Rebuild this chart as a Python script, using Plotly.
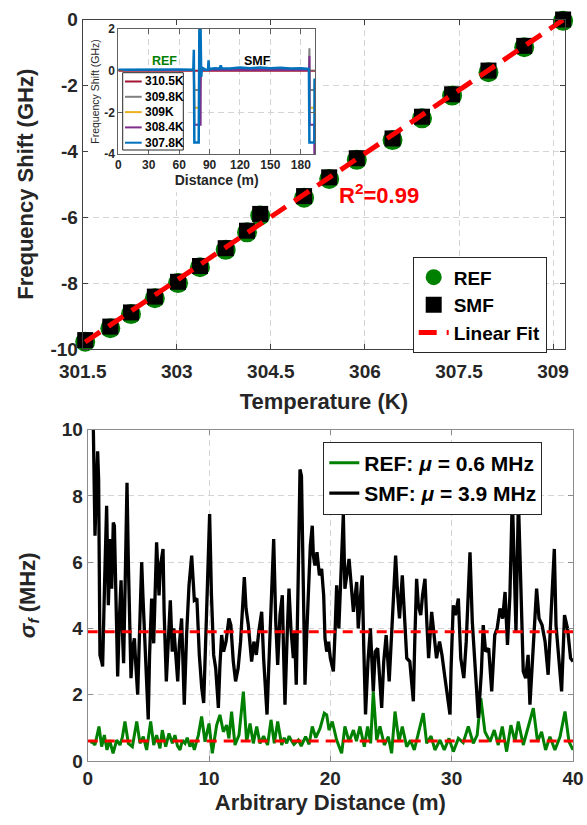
import numpy as np
import plotly.graph_objects as go

W, H = 587, 825
FONT = "Liberation Sans, Arial, Helvetica, sans-serif"
INK = "#262626"
GREEN = "#008000"
RED = "#ff0000"
GRID = "#d4d4d4"

# ---------------- Temperature sweep (top panel) ----------------
temp_k = [301.54, 301.94, 302.27, 302.65, 303.02, 303.37, 303.78, 304.12, 304.33,
          305.03, 305.43, 305.87, 306.44, 306.91, 307.39, 307.97, 308.54, 309.16]
shift_smf_ghz = [-9.73, -9.32, -8.89, -8.41, -7.96, -7.48, -6.94, -6.41, -5.90,
                 -5.36, -4.79, -4.21, -3.61, -2.95, -2.27, -1.55, -0.80, 0.00]
shift_ref_ghz = [-9.78, -9.37, -8.94, -8.46, -8.00, -7.52, -6.99, -6.46, -5.95,
                 -5.41, -4.84, -4.26, -3.66, -3.00, -2.31, -1.60, -0.84, -0.04]
r_squared = 0.99
temp_ticks = [301.5, 303, 304.5, 306, 307.5, 309]
temp_ticktext = ["301.5", "303", "304.5", "306", "307.5", "309"]
shift_ticks = [-10, -8, -6, -4, -2, 0]
shift_ticktext = ["-10", "-8", "-6", "-4", "-2", "0"]

# ---------------- Distributed profiles (inset) ----------------
inset_labels = ["310.5K", "309.8K", "309K", "308.4K", "307.8K"]
inset_colors = ["#A2142F", "#808080", "#EDB120", "#7E2F8E", "#0072BD"]
dist_3105 = [0, 60, 120, 194]
shift_3105 = [0.0, 0.0, 0.0, 0.0]
dist_3098 = [0, 74.5, 75, 80.5, 81, 188, 188.5, 188.8, 193.4, 194]
shift_3098 = [0.03, 0.03, -0.93, -0.93, 0.03, 0.03, 1.07, -0.93, -0.93, -0.4]
dist_3090 = [0, 74.5, 75, 80.5, 81, 188.2, 188.6, 193.4, 194]
shift_3090 = [0.03, 0.03, -1.78, -1.78, 0.03, 0.03, -1.78, -1.78, -0.6]
dist_3084 = [0, 74.5, 75, 81.2, 81.4, 188.2, 188.5, 188.8, 193.2, 193.4]
shift_3084 = [0.03, 0.03, -2.6, -2.6, 0.03, 0.03, 0.7, -2.6, -2.6, -4.5]
dist_3078 = [0, 20, 40, 60, 74, 74.5, 75, 79.3, 80, 81, 81.8, 82.5, 86, 88.5, 89,
             89.5, 95, 100, 101, 102, 110, 120, 130, 140, 150, 160, 170, 180, 188,
             188.5, 193.4, 193.6]
shift_3078 = [0.05, 0.06, 0.05, 0.06, 0.05, 1.0, -3.45, -3.45, 2.5, 2.5, -0.3, 0.15,
              0.05, 0.05, 0.5, 0.08, 0.12, 0.1, 0.25, 0.12, 0.1, 0.15, 0.12, 0.15,
              0.12, 0.14, 0.1, 0.12, 0.08, -3.45, -3.45, -0.37]
inset_dist = [dist_3105, dist_3098, dist_3090, dist_3084, dist_3078]
inset_shift = [shift_3105, shift_3098, shift_3090, shift_3084, shift_3078]
inset_xticks = [0, 30, 60, 90, 120, 150, 180]
inset_yticks = [-4, -2, 0, 2]
inset_yticktext = ["-4", "-2", "0", "2"]

# ---------------- Frequency uncertainty (bottom panel) ----------------
smf_dist_m = [0.45, 0.6, 0.7, 0.82, 0.9, 1.01, 1.15, 1.23, 1.4, 1.56, 1.7, 1.8, 1.87, 1.98,
              2.05, 2.11, 2.2, 2.3, 2.47, 2.6, 2.75, 2.85, 2.96, 3.1, 3.24, 3.35, 3.45, 3.57,
              3.7, 3.85, 3.95, 4.12, 4.25, 4.45, 4.55, 4.72, 4.85, 4.99, 5.1, 5.27, 5.44,
              5.55, 5.68, 5.8, 5.88, 6.0, 6.21, 6.3, 6.48, 6.6, 6.81, 6.97, 7.1, 7.2, 7.42,
              7.55, 7.74, 7.85, 7.96, 8.15, 8.35, 8.57, 8.7, 8.79, 9.0, 9.2, 9.4, 9.56, 9.8,
              10.05, 10.2, 10.38, 10.55, 10.77, 10.9, 11.04, 11.2, 11.4, 11.64, 11.8, 12.0,
              12.19, 12.4, 12.6, 12.91, 13.05, 13.24, 13.4, 13.51, 13.7, 13.9, 14.1, 14.34,
              14.5, 14.78, 14.9, 15.05, 15.2, 15.33, 15.5, 15.66, 15.85, 16.04, 16.15, 16.26,
              16.45, 16.59, 16.75, 16.95, 17.05, 17.19, 17.35, 17.5, 17.62, 17.75, 17.91,
              18.05, 18.18, 18.35, 18.51, 18.6, 18.73, 18.9, 19.1, 19.28, 19.45, 19.56, 19.7,
              19.85, 20.0, 20.25, 20.4, 20.52, 20.7, 20.85, 21.07, 21.2, 21.35, 21.54, 21.7,
              21.9, 22.17, 22.3, 22.45, 22.63, 22.75, 22.9, 23.1, 23.3, 23.54, 23.7, 23.9,
              24.05, 24.23, 24.4, 24.6, 24.85, 25.05, 25.38, 25.55, 25.7, 25.93, 26.1, 26.3,
              26.55, 26.84, 26.95, 27.11, 27.25, 27.45, 27.6, 27.8, 27.95, 28.1, 28.35, 28.55,
              28.75, 29.0, 29.2, 29.45, 29.86, 29.95, 30.13, 30.3, 30.55, 30.75, 31.0, 31.2,
              31.51, 31.7, 31.9, 32.2, 32.45, 32.6, 32.8, 33.05, 33.3, 33.55, 33.75, 33.98,
              34.2, 34.4, 34.6, 34.8, 35.0, 35.15, 35.3, 35.5, 35.7, 35.9, 36.1, 36.3, 36.45,
              36.65, 36.85, 37.0, 37.2, 37.45, 37.7, 37.95, 38.2, 38.46, 38.6, 38.8, 39.06,
              39.3, 39.55, 39.8, 40.0]
smf_sigma_mhz = [10.4, 6.8, 8.0, 9.35, 8.5, 3.2, 3.0, 2.85, 5.5, 7.7, 4.7, 5.8, 6.7, 5.2,
                 6.5, 7.2, 7.1, 5.0, 2.55, 4.2, 5.45, 4.0, 2.95, 5.6, 8.4, 6.0, 3.9, 2.5,
                 3.4, 3.7, 3.0, 2.0, 3.6, 6.0, 5.0, 3.7, 2.4, 1.25, 3.2, 4.9, 3.55,
                 5.2, 6.6, 5.6, 5.0, 5.9, 6.4, 4.5, 2.4, 3.3, 4.85, 3.3, 4.0, 3.5, 2.4,
                 3.5, 4.3, 3.0, 1.7, 3.8, 5.3, 6.2, 5.2, 4.85, 4.9, 3.2, 2.2, 1.75, 4.5,
                 7.45, 5.0, 3.2, 2.8, 1.6, 2.9, 3.8, 3.3, 3.6, 4.3, 4.1, 3.0,
                 2.4, 2.8, 3.6, 5.55, 4.6, 4.1, 3.4, 3.0, 3.6, 3.2, 3.9, 4.5,
                 3.1, 1.4, 2.6, 3.9, 5.5, 6.7, 4.2, 2.9, 4.4, 5.0, 3.2, 1.7,
                 3.9, 5.2, 4.0, 3.1, 3.9, 2.3, 5.5, 8.8, 8.6, 5.5, 2.3,
                 3.8, 5.2, 6.5, 7.1, 6.2, 5.9, 6.3, 5.6, 5.8, 5.0, 3.7, 3.3,
                 3.6, 3.1, 2.7, 4.0, 5.3, 4.0, 5.5, 7.45, 5.2, 5.6, 6.1, 5.4,
                 4.5, 5.4, 4.0, 4.8, 5.6, 3.5, 1.4, 3.0, 4.0, 2.1, 3.3, 3.4,
                 2.6, 1.6, 3.0, 3.8, 2.4, 4.0, 6.2, 5.0, 4.3, 5.6, 4.6, 3.1,
                 3.0, 1.8, 3.5, 5.5, 4.7, 4.4, 5.0, 5.5, 4.2, 3.1, 4.5, 3.7,
                 3.1, 3.6, 3.2, 2.5, 1.4, 2.8, 4.7, 4.4, 4.9, 3.1, 2.5, 3.6,
                 6.3, 4.2, 3.1, 1.3, 2.7, 4.1, 3.3, 3.4, 2.1, 3.8, 4.0, 4.6,
                 4.3, 5.1, 3.5, 5.0, 8.0, 5.5, 3.9, 7.9, 5.0, 2.7, 2.5, 3.2, 1.7,
                 3.1, 4.5, 5.2, 4.3, 4.1, 3.6, 2.6, 4.5, 6.4, 4.1, 3.2, 2.1,
                 4.4, 4.0, 3.1, 3.0]
ref_dist_m = [0.2, 0.38, 0.6, 0.93, 1.15, 1.37, 1.59, 1.81, 2.09, 2.39, 2.66, 2.85, 3.07,
              3.35, 3.68, 4.04, 4.31, 4.58, 4.86, 5.19, 5.44, 5.68, 5.96, 6.15, 6.43, 6.7,
              6.98, 7.19, 7.4, 7.61, 7.8, 8.02, 8.2, 8.43, 8.6, 8.79, 9.12, 9.39, 9.67, 10.0,
              10.27, 10.63, 10.9, 11.18, 11.45, 11.64, 11.86, 12.14, 12.47, 12.83, 13.1,
              13.38, 13.65, 13.93, 14.2, 14.5, 14.83, 15.11, 15.38, 15.66, 15.99, 16.2, 16.4,
              16.6, 16.76, 17.0, 17.36, 17.6, 17.96, 18.25, 18.51, 18.8, 19.15, 19.5, 19.7,
              19.89, 20.16, 20.52, 20.93, 21.2, 21.54, 21.9, 22.15, 22.44, 22.8, 23.07, 23.32,
              23.54, 23.82, 24.09, 24.45, 24.78, 25.05, 25.33, 25.66, 25.93, 26.29, 26.6,
              26.92, 27.25, 27.66, 27.94, 28.3, 28.62, 29.04, 29.39, 29.78, 30.14, 30.55,
              30.95, 31.37, 31.78, 32.1, 32.4, 32.74, 33.16, 33.51, 33.84, 34.17, 34.53,
              34.88, 35.22, 35.49, 35.9, 36.32, 36.73, 37.08, 37.41, 37.74, 38.1, 38.51,
              38.93, 39.34, 39.67, 40.0]
ref_sigma_mhz = [0.55, 0.58, 0.48, 1.04, 0.43, 0.78, 0.33, 0.63, 0.23, 0.63, 0.48, 0.7, 1.19,
                 0.53, 0.43, 1.19, 0.53, 0.73, 0.33, 1.19, 0.48, 0.78, 0.38, 0.93, 0.43, 0.83,
                 0.53, 0.78, 0.45, 0.33, 0.62, 0.53, 0.7, 0.43, 0.6, 0.33, 0.78, 1.34, 0.58, 1.13,
                 0.23, 1.08, 1.39, 0.88, 1.08, 0.68, 1.49, 0.48, 0.78, 2.09, 0.58,
                 1.13, 0.53, 1.04, 0.53, 0.75, 0.48, 1.24, 0.53, 1.19, 0.48, 0.7, 0.53,
                 0.75, 0.63, 0.5, 0.63, 0.45, 0.73, 0.5, 1.04, 0.7, 0.98, 1.44, 1.39,
                 0.93, 1.19, 0.63, 0.23, 1.04, 0.58, 0.93, 0.6, 1.04, 0.43, 1.04, 0.53,
                 2.09, 0.63, 1.04, 0.48, 0.73, 0.23, 1.49, 0.58, 1.04, 0.43, 0.62,
                 0.33, 0.83, 1.44, 0.53, 0.75, 0.33, 0.63, 0.33, 0.68, 0.28, 0.68,
                 0.55, 1.04, 0.53, 0.78, 1.89, 0.88, 0.58, 0.93, 0.48, 1.04, 0.28,
                 1.08, 0.58, 1.19, 0.48, 1.04, 1.59, 0.58, 0.88, 0.33, 0.73, 0.33,
                 0.73, 1.49, 0.58, 0.33]
ref_mean_mhz = 0.6
smf_mean_mhz = 3.9
dist_ticks = [0, 10, 20, 30, 40]
sigma_ticks = [0, 2, 4, 6, 8, 10]


def px_x(px):
    return px / W


def px_y(py):
    return 1 - py / H


fig = go.Figure()

# ---- top panel ----
fig.add_trace(go.Scatter(x=temp_k, y=shift_ref_ghz, mode="markers", name="REF",
                         marker=dict(symbol="circle", size=20, color=GREEN),
                         cliponaxis=False, xaxis="x", yaxis="y", legend="legend"))
fig.add_trace(go.Scatter(x=temp_k, y=shift_smf_ghz, mode="markers", name="SMF",
                         marker=dict(symbol="square", size=16, color="black"),
                         cliponaxis=False, xaxis="x", yaxis="y", legend="legend"))
slope, intercept = np.polyfit(temp_k, shift_smf_ghz, 1)
fit_t = np.array([min(temp_k), max(temp_k)])
fig.add_trace(go.Scatter(x=fit_t, y=slope * fit_t + intercept, mode="lines",
                         name="Linear Fit",
                         line=dict(color=RED, width=5, dash="18px,10px"),
                         xaxis="x", yaxis="y", legend="legend"))

# ---- inset ----
for lbl, col, d, s in zip(inset_labels, inset_colors, inset_dist, inset_shift):
    fig.add_trace(go.Scatter(x=d, y=s, mode="lines", name=lbl, showlegend=False,
                             line=dict(color=col, width=2.5 if lbl == "307.8K" else 2),
                             xaxis="x2", yaxis="y2"))

# ---- bottom panel ----
fig.add_trace(go.Scatter(x=ref_dist_m, y=ref_sigma_mhz, mode="lines",
                         name=f"REF: <i>μ</i> = {ref_mean_mhz} MHz",
                         line=dict(color=GREEN, width=3), xaxis="x3", yaxis="y3",
                         legend="legend2"))
fig.add_trace(go.Scatter(x=smf_dist_m, y=smf_sigma_mhz, mode="lines",
                         name=f"SMF: <i>μ</i> = {smf_mean_mhz} MHz",
                         line=dict(color="black", width=3.3), xaxis="x3", yaxis="y3",
                         legend="legend2"))
for m in (ref_mean_mhz, smf_mean_mhz):
    fig.add_trace(go.Scatter(x=[dist_ticks[0], dist_ticks[-1]], y=[m, m], mode="lines",
                             showlegend=False,
                             line=dict(color=RED, width=3, dash="10px,7px"),
                             xaxis="x3", yaxis="y3"))

tick_font = dict(family=FONT, size=19, color=INK, weight="bold")
title_font = dict(family=FONT, size=22, color=INK, weight="bold")


def frame(color):
    return dict(showline=True, linecolor=color, linewidth=1, mirror="ticks",
                ticks="inside", ticklen=5, tickcolor=color, showgrid=True,
                gridcolor=GRID, griddash="6px,4px", gridwidth=1, zeroline=False,
                automargin=False)


fig.update_layout(
    width=W, height=H, margin=dict(l=0, r=0, t=0, b=0, autoexpand=False),
    paper_bgcolor="white", plot_bgcolor="white",
    font=dict(family=FONT, color=INK),
    xaxis=dict(domain=[px_x(82.7), px_x(565)], range=[301.5, 309.19],
               tickvals=temp_ticks, ticktext=temp_ticktext, tickfont=tick_font,
               ticklabelstandoff=5,
               title=dict(text="Temperature (K)", font=title_font, standoff=12),
               anchor="y", **frame("#404040")),
    yaxis=dict(domain=[px_y(349), px_y(19.5)], range=[-10, 0],
               tickvals=shift_ticks, ticktext=shift_ticktext, tickfont=tick_font,
               title=dict(text="Frequency Shift (GHz)", font=title_font, standoff=10),
               anchor="x", **frame("#404040")),
    xaxis2=dict(domain=[px_x(118.3), px_x(315)], range=[0, 194],
                tickvals=inset_xticks,
                tickfont=dict(family=FONT, size=12, color=INK, weight="bold"),
                title=dict(text="Distance (m)",
                           font=dict(family=FONT, size=14, color=INK, weight="bold"),
                           standoff=2),
                anchor="y2", **frame("#606060")),
    yaxis2=dict(domain=[px_y(154), px_y(29)], range=[-4, 2],
                tickvals=inset_yticks, ticktext=inset_yticktext,
                tickfont=dict(family=FONT, size=12, color=INK, weight="bold"),
                title=dict(text="Frequency Shift (GHz)",
                           font=dict(family=FONT, size=10.5, color=INK),
                           standoff=2),
                anchor="x2", **frame("#606060")),
    xaxis3=dict(domain=[px_x(87.7), px_x(573)], range=[0, 40],
                tickvals=dist_ticks, tickfont=tick_font,
                title=dict(text="Arbitrary Distance (m)", font=title_font, standoff=6),
                anchor="y3", **frame("#8c8c8c")),
    yaxis3=dict(domain=[px_y(760.9), px_y(429.7)], range=[0, 10],
                tickvals=sigma_ticks, tickfont=tick_font,
                title=dict(text="<i>σ</i><sub><i>f</i></sub> (MHz)", font=title_font,
                           standoff=20),
                anchor="x3", **frame("#8c8c8c")),
    legend=dict(x=px_x(412.7), y=px_y(257.3), xanchor="left", yanchor="top",
                bgcolor="white", bordercolor=INK, borderwidth=1,
                font=dict(family=FONT, size=19, color="black", weight="bold"),
                itemsizing="trace"),
    legend2=dict(x=px_x(323.3), y=px_y(441.7), xanchor="left", yanchor="top",
                 bgcolor="white", bordercolor=INK, borderwidth=1,
                 font=dict(family=FONT, size=21, color="black", weight="bold")),
)

# white backing behind the inset so the main grid does not run through it
fig.add_shape(type="rect", xref="x", yref="y", x0=301.5, x1=305.32,
              y0=-5.24, y1=0, fillcolor="white", line=dict(width=0), layer="between")

# R^2 of the linear fit
fig.add_annotation(x=305.55, y=-5.3, xref="x", yref="y", xanchor="left",
                   text=f"R<sup>2</sup>={r_squared}", showarrow=False,
                   font=dict(family=FONT, size=22, color=RED, weight="bold"))

# fibre section labels inside the inset
fig.add_annotation(x=46, y=0.45, xref="x2", yref="y2", text="REF", showarrow=False,
                   font=dict(family=FONT, size=12.5, color=GREEN, weight="bold"))
fig.add_annotation(x=137, y=0.45, xref="x2", yref="y2", text="SMF", showarrow=False,
                   font=dict(family=FONT, size=12.5, color="black", weight="bold"))

# compact legend for the inset profiles
box_l, box_r, box_t, box_b = 122.7, 183.3, 72.7, 150
fig.add_shape(type="rect", xref="paper", yref="paper",
              x0=px_x(box_l), x1=px_x(box_r), y0=px_y(box_b), y1=px_y(box_t),
              fillcolor="white", line=dict(color=INK, width=1), layer="above")
row0, row_gap = 81.5, 15.3
for i, (lbl, col) in enumerate(zip(inset_labels, inset_colors)):
    ry = row0 + i * row_gap
    fig.add_shape(type="line", xref="paper", yref="paper",
                  x0=px_x(125), x1=px_x(141.7), y0=px_y(ry), y1=px_y(ry),
                  line=dict(color=col, width=2), layer="above")
    fig.add_annotation(x=px_x(143), y=px_y(ry), xref="paper", yref="paper",
                       xanchor="left", yanchor="middle", text=lbl, showarrow=False,
                       font=dict(family=FONT, size=12, color="black", weight="bold"))

fig.write_html("out.html")
